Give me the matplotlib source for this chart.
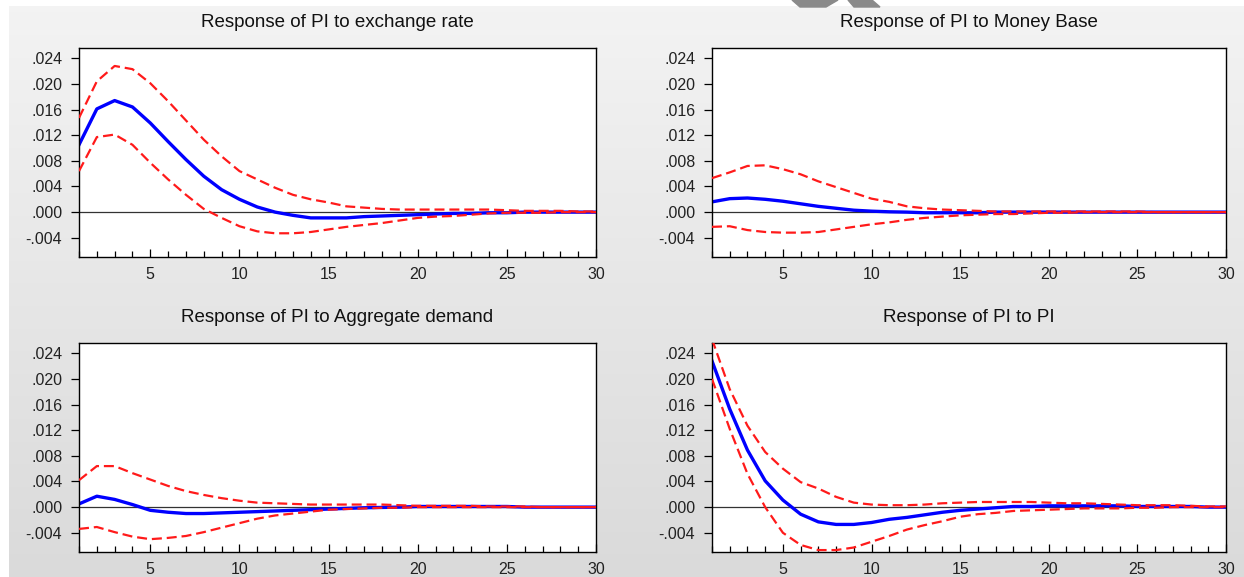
import numpy as np
import matplotlib
matplotlib.use("Agg")
import matplotlib.pyplot as plt
from matplotlib.patches import Polygon

plt.rcParams['font.family'] = ['Liberation Sans', 'DejaVu Sans']

periods = list(range(1, 31))

# Response of PI to exchange rate
er_mid = [0.0105, 0.0161, 0.0174, 0.0164, 0.0139, 0.0110, 0.0082, 0.0056, 0.0035, 0.0020,
          0.0008, 0.0000, -0.0005, -0.0009, -0.0009, -0.0009, -0.0007, -0.0006, -0.0005, -0.0004,
          -0.0003, -0.0002, -0.0002, -0.0001, -0.0001, 0.0000, 0.0000, 0.0000, 0.0000, 0.0000]
er_up = [0.0147, 0.0204, 0.0228, 0.0223, 0.0201, 0.0173, 0.0143, 0.0113, 0.0087, 0.0064,
         0.0051, 0.0038, 0.0027, 0.0020, 0.0015, 0.0009, 0.0007, 0.0005, 0.0004, 0.0004,
         0.0004, 0.0004, 0.0004, 0.0004, 0.0003, 0.0002, 0.0002, 0.0002, 0.0001, 0.0001]
er_lo = [0.0064, 0.0117, 0.0121, 0.0105, 0.0077, 0.0051, 0.0027, 0.0005, -0.0009, -0.0022,
         -0.0030, -0.0033, -0.0033, -0.0031, -0.0027, -0.0023, -0.0020, -0.0017, -0.0013, -0.0009,
         -0.0007, -0.0006, -0.0004, -0.0002, -0.0001, -0.0001, -0.0001, 0.0000, 0.0000, 0.0000]

# Response of PI to Money Base
mb_mid = [0.0016, 0.0021, 0.0022, 0.0020, 0.0017, 0.0013, 0.0009, 0.0006, 0.0003, 0.00015,
          0.00005, 0.0000, -0.0001, -0.0001, -0.0001, -0.0001, 0.0000, 0.0000, 0.0000, 0.0000,
          0.0000, 0.0000, 0.0000, 0.0000, 0.0000, 0.0000, 0.0000, 0.0000, 0.0000, 0.0000]
mb_up = [0.0053, 0.0062, 0.0072, 0.0073, 0.0067, 0.0059, 0.0048, 0.0039, 0.0030, 0.0021,
         0.0016, 0.0009, 0.0006, 0.0004, 0.0003, 0.0002, 0.0001, 0.0001, 0.0001, 0.0001,
         0.0001, 0.0001, 0.0001, 0.0001, 0.0001, 0.0000, 0.0000, 0.0000, 0.0000, 0.0000]
mb_lo = [-0.0023, -0.0022, -0.0028, -0.0031, -0.0032, -0.0032, -0.0031, -0.0027, -0.0023, -0.0019,
         -0.0016, -0.0012, -0.0009, -0.0007, -0.0005, -0.0004, -0.0003, -0.0003, -0.0002, -0.0001,
         -0.0001, 0.0000, 0.0000, 0.0000, 0.0000, 0.0000, 0.0000, 0.0000, 0.0000, 0.0000]

# Response of PI to Aggregate demand
ad_mid = [0.0005, 0.0017, 0.0012, 0.0004, -0.0005, -0.0008, -0.0010, -0.0010, -0.0009, -0.0008,
          -0.0007, -0.0006, -0.0005, -0.0004, -0.0003, -0.0002, -0.0001, -0.00005, 0.0000, 0.0001,
          0.0001, 0.0001, 0.0001, 0.0001, 0.0001, 0.0000, 0.0000, 0.0000, 0.0000, 0.0000]
ad_up = [0.0042, 0.0064, 0.0064, 0.0053, 0.0043, 0.0033, 0.0025, 0.0019, 0.0014, 0.0010,
         0.0007, 0.0006, 0.0005, 0.0004, 0.0004, 0.0004, 0.0004, 0.0004, 0.0003, 0.0002,
         0.0002, 0.0002, 0.0002, 0.0001, 0.0001, 0.0001, 0.0000, 0.0000, 0.0000, 0.0000]
ad_lo = [-0.0034, -0.0031, -0.0039, -0.0046, -0.0050, -0.0048, -0.0045, -0.0039, -0.0032, -0.0025,
         -0.0018, -0.0013, -0.0010, -0.0007, -0.0004, -0.0003, -0.0002, -0.0001, -0.0001, 0.0000,
         0.0000, 0.0000, 0.0000, 0.0000, 0.0000, 0.0000, 0.0000, 0.0000, 0.0000, 0.0000]

# Response of PI to PI
pi_mid = [0.0228, 0.0153, 0.0089, 0.0041, 0.0011, -0.0011, -0.0023, -0.0027, -0.0027, -0.0024,
          -0.0019, -0.0016, -0.0012, -0.0008, -0.0005, -0.0003, -0.0001, 0.0001, 0.0001, 0.0002,
          0.0002, 0.0002, 0.0002, 0.0002, 0.0001, 0.0001, 0.0001, 0.0001, 0.0000, 0.0000]
pi_up = [0.0262, 0.0184, 0.0127, 0.0086, 0.0060, 0.0039, 0.0029, 0.0016, 0.0007, 0.0004,
         0.0003, 0.0003, 0.0004, 0.0006, 0.0007, 0.0008, 0.0008, 0.0008, 0.0008, 0.0007,
         0.0006, 0.0006, 0.0005, 0.0004, 0.0003, 0.0003, 0.0003, 0.0002, 0.0001, 0.0001]
pi_lo = [0.0200, 0.0122, 0.0052, 0.0000, -0.0040, -0.0059, -0.0067, -0.0067, -0.0063, -0.0054,
         -0.0045, -0.0035, -0.0028, -0.0022, -0.0015, -0.0011, -0.0009, -0.0006, -0.0005, -0.0004,
         -0.0003, -0.0002, -0.0002, -0.0002, -0.0001, -0.0001, 0.0000, 0.0000, 0.0000, 0.0000]

titles = ["Response of PI to exchange rate", "Response of PI to Money Base",
          "Response of PI to Aggregate demand", "Response of PI to PI"]
panels = [(er_mid, er_up, er_lo), (mb_mid, mb_up, mb_lo),
          (ad_mid, ad_up, ad_lo), (pi_mid, pi_up, pi_lo)]

yticks = [-0.004, 0.000, 0.004, 0.008, 0.012, 0.016, 0.020, 0.024]
ytick_labels = ["-.004", ".000", ".004", ".008", ".012", ".016", ".020", ".024"]

W, H = 1244, 577
fig = plt.figure(figsize=(W / 100, H / 100), dpi=100)

# grey gradient background with white strips at top and left
bg = fig.add_axes([0, 0, 1, 1], zorder=-10)
g = np.linspace(0.955, 0.855, H)[:, None] * np.ones((1, W))
g[:6, :] = 1.0
g[:, :9] = 1.0
bg.imshow(np.dstack([g, g, g]), aspect='auto', extent=[0, W, H, 0])
bg.set_xlim(0, W)
bg.set_ylim(H, 0)
bg.axis('off')
# watermark shapes at the top
bg.add_patch(Polygon([[792, 0], [838, 0], [826, 7], [800, 7]], closed=True, color='#8a8a8a'))
bg.add_patch(Polygon([[848, 0], [872, 0], [880, 7], [854, 7]], closed=True, color='#8a8a8a'))

boxes = [(79, 48, 596, 257), (712, 48, 1226, 257),
         (79, 343, 596, 552), (712, 343, 1226, 552)]

for (x0, y0, x1, y1), title, (mid, up, lo) in zip(boxes, titles, panels):
    ax = fig.add_axes([x0 / W, 1 - y1 / H, (x1 - x0) / W, (y1 - y0) / H])
    ax.set_facecolor('white')
    ax.axhline(0, color='#333333', lw=0.9, zorder=1)
    ax.plot(periods, up, color='#ff1a1a', lw=1.6, ls=(0, (4.5, 2.2)), zorder=3)
    ax.plot(periods, lo, color='#ff1a1a', lw=1.6, ls=(0, (4.5, 2.2)), zorder=3)
    ax.plot(periods, mid, color='#0000ff', lw=2.4, zorder=2)
    ax.set_xlim(1, 30)
    ax.set_ylim(-0.0070, 0.0256)
    ax.set_yticks(yticks)
    ax.set_yticklabels(ytick_labels)
    ax.set_xticks([5, 10, 15, 20, 25, 30])
    ax.set_xticks(periods, minor=True)
    ax.tick_params(axis='y', direction='out', length=6, width=0.9, labelsize=11.5, pad=6,
                   labelcolor='#222222')
    ax.tick_params(axis='x', which='major', direction='in', length=6, width=0.9,
                   labelsize=11.5, pad=7, labelcolor='#222222')
    ax.tick_params(axis='x', which='minor', direction='in', length=4, width=0.9)
    for s in ax.spines.values():
        s.set_linewidth(1.0)
        s.set_color('black')
    ax.set_title(title, fontsize=13.5, pad=15, color='#111111')

fig.savefig("out.png", dpi=100)
